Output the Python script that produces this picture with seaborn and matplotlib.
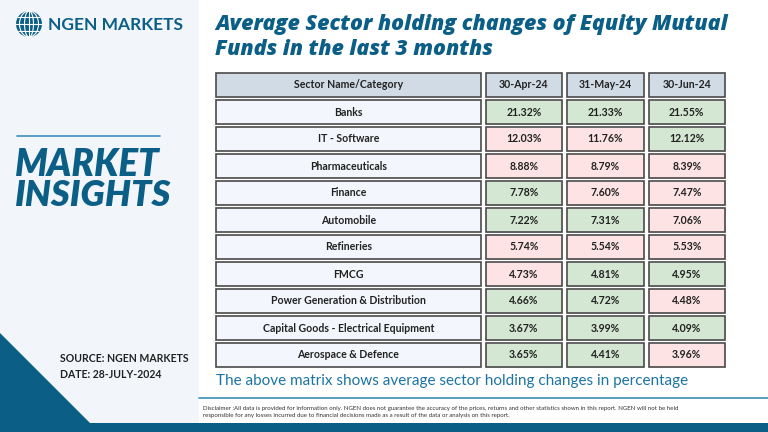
import numpy as np
import pandas as pd
import seaborn as sns
import matplotlib.pyplot as plt
from matplotlib.colors import ListedColormap
from matplotlib.patches import Rectangle, Circle, Ellipse, Polygon

sectors = ['Banks', 'IT - Software', 'Pharmaceuticals', 'Finance', 'Automobile',
           'Refineries', 'FMCG', 'Power Generation & Distribution',
           'Capital Goods - Electrical Equipment', 'Aerospace & Defence']
months = ['30-Apr-24', '31-May-24', '30-Jun-24']
apr = [21.32, 12.03, 8.88, 7.78, 7.22, 5.74, 4.73, 4.66, 3.67, 3.65]
may = [21.33, 11.76, 8.79, 7.60, 7.31, 5.54, 4.81, 4.72, 3.99, 4.41]
jun = [21.55, 12.12, 8.39, 7.47, 7.06, 5.53, 4.95, 4.48, 4.09, 3.96]
# 1 = green cell, 0 = red cell, as coloured in the source
apr_up = [1, 0, 0, 1, 1, 0, 0, 1, 1, 1]
may_up = [1, 0, 0, 0, 1, 0, 1, 1, 1, 1]
jun_up = [1, 1, 0, 0, 0, 0, 1, 0, 1, 0]

title = 'Average Sector holding changes of Equity Mutual\nFunds in the last 3 months'
caption = 'The above matrix shows average sector holding changes in percentage'
disclaimer = ('Disclaimer :All data is provided for information only. NGEN does not guarantee the accuracy '
              'of the prices, returns and other statistics shown in this report. NGEN will not be held\n'
              'responsible for any losses incurred due to financial decisions made as a result of the '
              'data or analysis on this report.')

NAVY = '#0b5f86'
TEAL = '#3a8fb9'
PANEL = '#f2f6fb'
GREEN = '#d4e7d2'
PINK = '#fde3e3'
HEAD = '#d0dbe6'
SECT = '#f3f6fc'
EDGE = '#4a4a4a'
INK = '#222222'

vals = pd.DataFrame(dict(zip(months, [apr, may, jun])), index=sectors)
flags = pd.DataFrame(dict(zip(months, [apr_up, may_up, jun_up])), index=sectors)
labels = vals.map(lambda v: f'{v:.2f}%')

sns.set_theme(style='white')
plt.rcParams['font.family'] = ['Lato', 'DejaVu Sans']

fig = plt.figure(figsize=(7.68, 4.32), dpi=100)
fig.patch.set_facecolor('white')

# page decoration, in pixel coordinates
bg = fig.add_axes([0, 0, 1, 1], zorder=0)
bg.set_xlim(0, 768)
bg.set_ylim(432, 0)
bg.axis('off')
bg.add_patch(Rectangle((0, 0), 199, 432, color=PANEL, lw=0))
bg.add_patch(Polygon([(0, 333), (90, 423), (0, 423)], color=NAVY, lw=0))
bg.add_patch(Rectangle((0, 423), 768, 9, color=NAVY, lw=0))
bg.plot([199, 768], [398, 398], color=TEAL, lw=1.2)
bg.plot([17, 160], [136, 136], color=TEAL, lw=1.2)

# globe logo
globe = Circle((29, 24), 13, color=NAVY, lw=0)
bg.add_patch(globe)
for w in (9, 19):
    e = Ellipse((29, 24), w, 26, fill=False, ec='white', lw=0.8)
    bg.add_patch(e)
for yy in (17, 24, 31):
    ln, = bg.plot([15, 43], [yy, yy], color='white', lw=0.8)
    ln.set_clip_path(globe)
bg.plot([29, 29], [11, 37], color='white', lw=0.8)
bg.text(48, 25, 'NGEN MARKETS', color=NAVY, fontsize=12.5, fontweight='bold', va='center')

bg.text(15, 164, 'MARKET', color=NAVY, fontsize=26.5, fontweight='heavy', style='italic', va='center')
bg.text(15, 195, 'INSIGHTS', color=NAVY, fontsize=26, fontweight='heavy', style='italic', va='center')
bg.text(60, 358, 'SOURCE: NGEN MARKETS', color=INK, fontsize=7.6, fontweight='bold', va='center')
bg.text(60, 374, 'DATE: 28-JULY-2024', color=INK, fontsize=7.6, fontweight='bold', va='center')

bg.text(215, 37, title, color=NAVY, fontsize=15.4, fontweight='heavy', style='italic',
        va='center', linespacing=1.3, family=['Open Sans', 'DejaVu Sans'])
bg.text(216, 381, caption, color='#1c74a2', fontsize=11, va='center')
bg.text(203, 412, disclaimer, color='#333333', fontsize=4.4, va='center', linespacing=1.7)

# table
sect_w = 3.31
ax = fig.add_axes([213.5 / 768, 1 - 368.5 / 432, 514 / 768, 297 / 432], zorder=1)
sns.heatmap(flags, ax=ax, cmap=ListedColormap([PINK, GREEN]), vmin=0, vmax=1, cbar=False,
            annot=labels.values, fmt='',
            annot_kws=dict(fontsize=7.6, fontweight='bold', color=INK),
            xticklabels=False, yticklabels=False)
ax.set_xlim(-sect_w, len(months))
ax.set_ylim(len(sectors), -1)
ax.axis('off')

dx, dy = 2.5 / 81.3, 1.5 / 27
for x in range(len(months) + 1):
    ax.axvline(x, color='white', lw=3.6, zorder=2)
for y in range(len(sectors) + 1):
    ax.axhline(y, color='white', lw=2.2, zorder=2)

def cell(x0, y0, w, fc):
    ax.add_patch(Rectangle((x0 + dx, y0 + dy), w - 2 * dx, 1 - 2 * dy,
                           fc=fc, ec=EDGE, lw=1.2, zorder=2.5))

def cell_edge(x0, y0):
    ax.add_patch(Rectangle((x0 + dx, y0 + dy), 1 - 2 * dx, 1 - 2 * dy,
                           fill=False, ec=EDGE, lw=1.2, zorder=2.5))

cell(-sect_w, -1, sect_w, HEAD)
ax.text(-sect_w / 2, -0.5, 'Sector Name/Category', ha='center', va='center',
        fontsize=7.6, fontweight='bold', color=INK, zorder=3)
for j, m in enumerate(months):
    cell(j, -1, 1, HEAD)
    ax.text(j + 0.5, -0.5, m, ha='center', va='center', fontsize=7.6, fontweight='bold',
            color=INK, zorder=3)
for i, s in enumerate(sectors):
    cell(-sect_w, i, sect_w, SECT)
    ax.text(-sect_w / 2, i + 0.5, s, ha='center', va='center', fontsize=7.6,
            fontweight='bold', color=INK, zorder=3)
    for j in range(len(months)):
        cell_edge(j, i)

fig.savefig('out.png', dpi=100)
